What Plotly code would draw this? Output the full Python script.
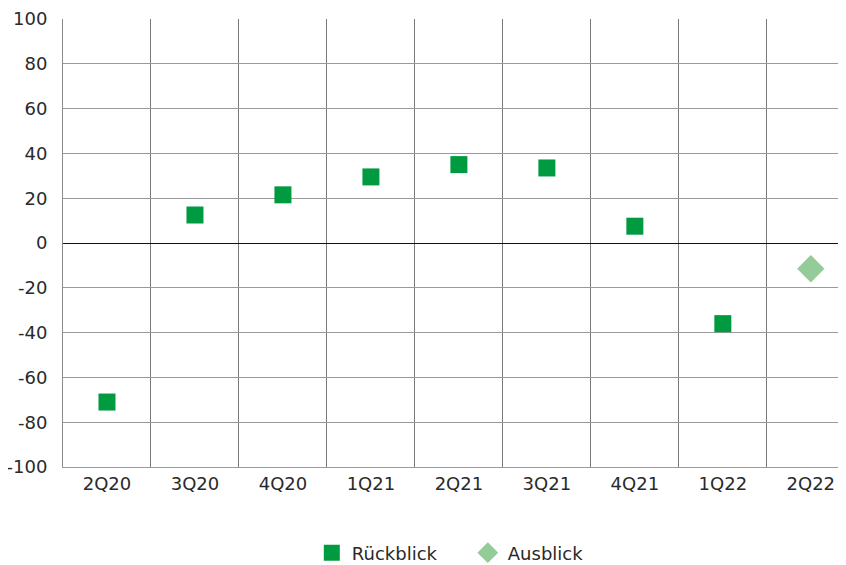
import plotly.graph_objects as go

categories = ["2Q20", "3Q20", "4Q20", "1Q21", "2Q21", "3Q21", "4Q21", "1Q22", "2Q22"]
rueckblick = [-71, 12.5, 21.5, 29.5, 35, 33.5, 7.5, -36, None]
ausblick = [None, None, None, None, None, None, None, None, -11.5]
y_ticks = [-100, -80, -60, -40, -20, 0, 20, 40, 60, 80, 100]
y_ticktext = [str(v) for v in y_ticks]

fig = go.Figure()
fig.add_trace(go.Scatter(x=categories, y=rueckblick, mode="markers", name="Rückblick",
                         marker=dict(symbol="square", size=17, color="#009b40")))
fig.add_trace(go.Scatter(x=categories, y=ausblick, mode="markers", name="Ausblick",
                         marker=dict(symbol="diamond", size=21, color="#93cc98")))

font = "DejaVu Sans, Liberation Sans, sans-serif"
fig.update_layout(
    width=838, height=557,
    margin=dict(l=55, r=0, t=11, b=98, autoexpand=False),
    plot_bgcolor="white", paper_bgcolor="white",
    font=dict(family=font, size=18, color="#2a2a2a"),
    showlegend=True,
    legend=dict(orientation="h", x=0.517, xanchor="center", y=-0.192, yanchor="middle",
                font=dict(size=18), tracegroupgap=0, entrywidth=111),
    xaxis=dict(type="category", categoryorder="array", categoryarray=categories,
               range=[-0.5, 8.4], tickson="boundaries", showgrid=True, gridcolor="#7a7a7a",
               gridwidth=1, showline=True, linecolor="#9a9a9a", linewidth=1,
               ticks="", ticklabelstandoff=0, tickfont=dict(size=18), automargin=False),
    yaxis=dict(range=[-100, 100], tickvals=y_ticks, ticktext=y_ticktext, showgrid=True,
               gridcolor="#9a9a9a", gridwidth=1, zeroline=True, zerolinecolor="#111111",
               zerolinewidth=1, showline=True, linecolor="#8a8a8a", linewidth=1,
               ticks="", ticklabelstandoff=11, tickfont=dict(size=18), automargin=False),
)
fig.write_html("out.html")
